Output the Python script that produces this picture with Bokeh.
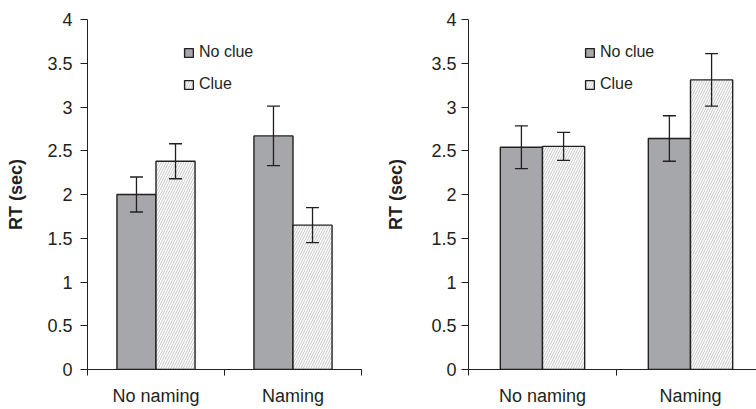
from bokeh.plotting import figure
from bokeh.models import (ColumnDataSource, Whisker, TeeHead, FixedTicker,
                          Legend, LegendItem, Range1d)
from bokeh.layouts import row
from bokeh.embed import file_html
from bokeh.resources import INLINE
import numpy as np

# ---- data ----
categories = ["No naming", "Naming"]
series = ["No clue", "Clue"]

left_no_clue = [2.00, 2.67]
left_no_clue_err = [0.20, 0.34]
left_clue = [2.38, 1.65]
left_clue_err = [0.20, 0.20]

right_no_clue = [2.54, 2.64]
right_no_clue_err = [0.245, 0.26]
right_clue = [2.55, 3.31]
right_clue_err = [0.16, 0.30]

y_ticks = [0, 0.5, 1, 1.5, 2, 2.5, 3, 3.5, 4]
y_tick_labels = ["0", "0.5", "1", "1.5", "2", "2.5", "3", "3.5", "4"]
y_label = "RT (sec)"

FONT = "Liberation Sans"
INK = "#231f20"
GRAY = "#a6a7aa"
HATCH = "#b8b8b8"
H = 409


def panel(no_clue, no_clue_err, clue, clue_err, width, x_end,
          border_left, border_right, border_top, border_bottom,
          tick_standoff, label_standoff, legend_loc):
    p = figure(width=width, height=H, output_backend="svg",
               toolbar_location=None, title_location=None,
               x_range=Range1d(0, x_end), y_range=Range1d(0, 4),
               min_border_left=border_left, min_border_right=border_right,
               min_border_top=border_top, min_border_bottom=border_bottom)
    p.outline_line_color = None
    p.xgrid.visible = False
    p.ygrid.visible = False
    p.background_fill_color = "white"
    p.border_fill_color = "white"

    bar_w = 0.285
    centers = np.arange(len(categories)) + 0.5
    nc = np.array(no_clue)
    nce = np.array(no_clue_err)
    c = np.array(clue)
    ce = np.array(clue_err)

    s1 = ColumnDataSource(dict(x=centers - bar_w / 2, top=nc,
                               upper=nc + nce, lower=nc - nce))
    s2 = ColumnDataSource(dict(x=centers + bar_w / 2, top=c,
                               upper=c + ce, lower=c - ce))

    r1 = p.vbar(x="x", top="top", width=bar_w, bottom=0, source=s1,
                fill_color=GRAY, line_color=INK, line_width=1.4)
    r2 = p.vbar(x="x", top="top", width=bar_w, bottom=0, source=s2,
                fill_color="white", line_color=INK, line_width=1.4,
                hatch_pattern="/", hatch_color=HATCH, hatch_scale=5,
                hatch_weight=0.8)

    for s in (s1, s2):
        w = Whisker(base="x", upper="upper", lower="lower", source=s,
                    level="overlay", line_color=INK, line_width=1.3,
                    upper_head=TeeHead(size=13, line_color=INK, line_width=1.3),
                    lower_head=TeeHead(size=13, line_color=INK, line_width=1.3))
        p.add_layout(w)

    # y axis
    ya = p.yaxis[0]
    ya.ticker = FixedTicker(ticks=y_ticks)
    ya.major_label_overrides = {t: l for t, l in zip(y_ticks, y_tick_labels)}
    ya.major_tick_out = 7
    ya.major_tick_in = 0
    ya.minor_tick_out = 0
    ya.minor_tick_in = 0
    ya.major_label_standoff = tick_standoff
    ya.major_label_text_font = FONT
    ya.major_label_text_font_size = "18px"
    ya.major_label_text_color = INK
    ya.axis_line_color = INK
    ya.major_tick_line_color = INK
    ya.axis_label = y_label
    ya.axis_label_text_font = FONT
    ya.axis_label_text_font_style = "bold"
    ya.axis_label_text_font_size = "18px"
    ya.axis_label_text_color = INK
    ya.axis_label_standoff = label_standoff

    # x axis: labels at category centres, ticks at boundaries
    xa = p.xaxis[0]
    xa.ticker = FixedTicker(ticks=list(centers),
                            minor_ticks=list(np.arange(len(categories) + 1)))
    xa.major_label_overrides = {float(t): l for t, l in zip(centers, categories)}
    xa.major_tick_out = 0
    xa.major_tick_in = 0
    xa.minor_tick_out = 6
    xa.minor_tick_in = 0
    xa.minor_tick_line_color = INK
    xa.major_label_standoff = 10
    xa.major_label_text_font = FONT
    xa.major_label_text_font_size = "18px"
    xa.major_label_text_color = INK
    xa.axis_line_color = INK

    legend = Legend(items=[LegendItem(label=series[0], renderers=[r1]),
                           LegendItem(label=series[1], renderers=[r2])],
                    location=legend_loc, padding=0, margin=0, spacing=14,
                    glyph_width=11, glyph_height=11, label_standoff=5,
                    label_height=17, label_text_font=FONT,
                    label_text_font_size="16px", label_text_color=INK,
                    background_fill_alpha=0, border_line_alpha=0)
    p.add_layout(legend)
    return p


p1 = panel(left_no_clue, left_no_clue_err, left_clue, left_clue_err,
           width=380, x_end=2.0, border_left=87, border_right=19,
           border_top=15, border_bottom=40, tick_standoff=8,
           label_standoff=18, legend_loc=(96, 276))
p2 = panel(right_no_clue, right_no_clue_err, right_clue, right_clue_err,
           width=376, x_end=1.946, border_left=88, border_right=0,
           border_top=19, border_bottom=39, tick_standoff=5,
           label_standoff=22, legend_loc=(116, 276))

layout = row(p1, p2)
open("out.html", "w").write(file_html(layout, INLINE))
